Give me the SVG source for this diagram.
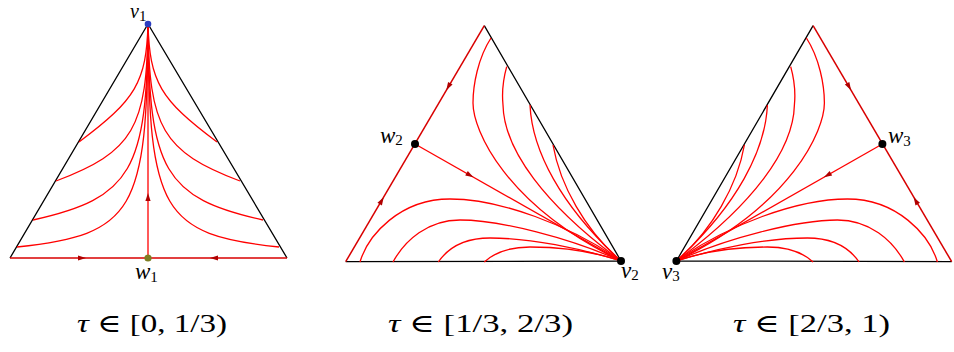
<svg xmlns="http://www.w3.org/2000/svg" xmlns:xlink="http://www.w3.org/1999/xlink" width="954" height="352" viewBox="0 0 954 352">
<style>
.edge{stroke:#000;stroke-width:1.3;fill:none}
.redge{stroke:#d80000;stroke-width:1.5;fill:none}
.traj{stroke:#ff0000;stroke-width:1.3;fill:none}
.ah{fill:#b00000}
.m{font-family:"Liberation Serif","DejaVu Serif",serif;font-style:italic;font-size:23px;fill:#000}
.sub{font-style:normal;font-size:15px}
.cap{font-family:"Liberation Serif","DejaVu Serif",serif;font-size:25px;fill:#000}
</style>
<defs>
<path id="ah" class="ah" d="M4,0 L-4,-2.6 L-4,2.6 Z"/>
</defs>
<rect width="954" height="352" fill="#fff"/>
<g id="connectors">
  <g id="panel1">
    <path class="edge" d="M10,258 L148,24 L287,258"/>
    <path class="redge" d="M10,258 L287,258"/>
    <path class="traj" d="M148,24 L148,258"/>
    <g id="p1left">
      <path class="traj" d="M148,24 C146.3,82 136,99.5 79,142"/>
      <path class="traj" d="M148,24 C147.2,128 133.4,151.6 56,181"/>
      <path class="traj" d="M148,24 C147.2,170 132,198 33,220"/>
      <path class="traj" d="M148,24 C147.3,212 134,234.4 17,247"/>
    </g>
    <use href="#p1left" xlink:href="#p1left" transform="translate(296,0) scale(-1,1)"/>
    <use href="#ah" xlink:href="#ah" transform="translate(148,197) rotate(-90)"/>
    <use href="#ah" xlink:href="#ah" transform="translate(82,258)"/>
    <use href="#ah" xlink:href="#ah" transform="translate(214,258) rotate(180)"/>
  </g>
  <g id="panel2">
    <path class="edge" d="M345.7,261.7 L621,261 L484.3,25.7"/>
    <path class="redge" d="M345.7,261.7 L484.3,25.7"/>
    <path class="traj" d="M415,144 L621,261"/>
    <path class="traj" d="M491,38 C478,58 473,85 473,103 C473,130 505,205 621,261"/>
    <path class="traj" d="M506.7,66.7 C503,80 502,95 503,105 C504,150 545,205 621,261"/>
    <path class="traj" d="M530,105 C532,150 560,205 621,261"/>
    <path class="traj" d="M553,145 C560,185 585,230 621,261"/>
    <path class="traj" d="M360,262 C368,235 400,199 450,199 C500,199 570,225 621,261"/>
    <path class="traj" d="M393,262 C405,240 428,220 460,220 C500,220 570,238 621,261"/>
    <path class="traj" d="M438.3,262 C448,248 465,238 490,238 C530,238 580,248 621,261"/>
    <path class="traj" d="M484.3,262 C494,253 510,247 530,247 C565,247 595,252 621,261"/>
    <use href="#ah" xlink:href="#ah" transform="translate(448.3,86.7) rotate(120.4)"/>
    <use href="#ah" xlink:href="#ah" transform="translate(381.7,200.7) rotate(-59.6)"/>
    <use href="#ah" xlink:href="#ah" transform="translate(470,175.2) rotate(29.6)"/>
  </g>
  <use href="#panel2" xlink:href="#panel2" transform="translate(1297.4,0) scale(-1,1)"/>
</g>
<g id="v1">
  <circle cx="148" cy="24" r="3.3" fill="#2b3cc0"/>
  <text class="m" x="130" y="18" style="font-size:20px">v<tspan class="sub" dy="2.5">1</tspan></text>
</g>
<g id="w1">
  <circle cx="148" cy="258" r="3.6" fill="#7e7e22"/>
  <text class="m" x="135" y="279">w<tspan class="sub" dy="3">1</tspan></text>
</g>
<g id="w2">
  <circle cx="415" cy="144" r="4" fill="#000"/>
  <text class="m" x="380" y="143">w<tspan class="sub" dy="2">2</tspan></text>
</g>
<g id="v2">
  <circle cx="621" cy="261" r="4" fill="#000"/>
  <text class="m" x="621" y="278">v<tspan class="sub" dy="2">2</tspan></text>
</g>
<g id="w3">
  <circle cx="882.4" cy="144" r="4" fill="#000"/>
  <text class="m" x="888" y="143">w<tspan class="sub" dy="3">3</tspan></text>
</g>
<g id="v3">
  <circle cx="676.4" cy="261" r="4" fill="#000"/>
  <text class="m" x="662" y="279">v<tspan class="sub" dy="2">3</tspan></text>
</g>
<g id="captions">
  <text class="cap" x="77" y="332" textLength="150" lengthAdjust="spacingAndGlyphs"><tspan font-style="italic">τ</tspan> ∈ [0, 1/3)</text>
  <text class="cap" x="388" y="332" textLength="185" lengthAdjust="spacingAndGlyphs"><tspan font-style="italic">τ</tspan> ∈ [1/3, 2/3)</text>
  <text class="cap" x="733" y="332" textLength="157" lengthAdjust="spacingAndGlyphs"><tspan font-style="italic">τ</tspan> ∈ [2/3, 1)</text>
</g>
</svg>
